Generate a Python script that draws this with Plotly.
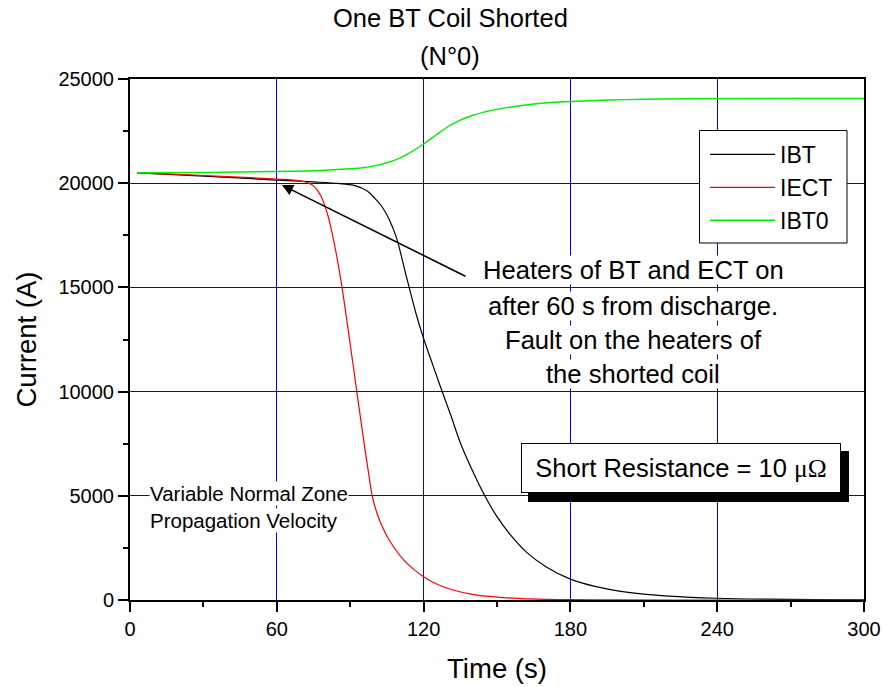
import plotly.graph_objects as go

# ---------------- data ----------------
t_ibt = [3, 20, 40, 60, 75, 85, 92, 97, 100, 103, 106, 109, 113, 117, 120, 124, 127, 131, 135,
         140, 145, 150, 155, 162, 170, 180, 190, 200, 210, 220, 240, 260, 280, 300]
i_ibt = [20500, 20400, 20280, 20150, 20060, 19990, 19880, 19620, 19280, 18870, 18250, 17350,
         15500, 13700, 12550, 11200, 10200, 8900, 7550, 6200, 5000, 4000, 3200, 2300, 1600,
         1000, 650, 430, 285, 190, 85, 38, 17, 8]

t_iect = [3, 20, 40, 60, 68, 72, 75, 78, 81, 83.5, 86.2, 89.5, 92.7, 95.7, 97.5, 99, 101, 103.5,
          106, 109, 112, 116, 120, 126, 132, 140, 150, 160, 170, 180, 200, 240, 300]
i_iect = [20500, 20420, 20320, 20200, 20140, 20050, 19870, 19400, 18400, 17100, 15350, 12700,
          10000, 7500, 6100, 5000, 4150, 3420, 2870, 2340, 1900, 1470, 1120, 730, 480, 270,
          135, 65, 32, 15, 4, 0, 0]

t_ibt0 = [3, 30, 60, 80, 90, 95, 100, 105, 110, 115, 120, 125, 130, 135, 140, 145, 150, 157,
          165, 172, 180, 195, 210, 225, 240, 270, 300]
i_ibt0 = [20500, 20520, 20560, 20620, 20690, 20740, 20830, 20980, 21190, 21500, 21880, 22300,
          22720, 23030, 23250, 23420, 23540, 23680, 23800, 23870, 23920, 23990, 24030, 24050,
          24060, 24070, 24070]

x_ticks = [0, 60, 120, 180, 240, 300]
y_ticks = [0, 5000, 10000, 15000, 20000, 25000]

# ---------------- figure ----------------
FONT = "Liberation Sans, Arial, sans-serif"
fig = go.Figure()
fig.add_trace(go.Scatter(x=t_ibt, y=i_ibt, name="IBT", mode="lines",
                         line=dict(color="#000000", width=1.2, shape="spline", smoothing=0.8)))
fig.add_trace(go.Scatter(x=t_iect, y=i_iect, name="IECT", mode="lines",
                         line=dict(color="#FF0000", width=1.2, shape="spline", smoothing=0.8)))
fig.add_trace(go.Scatter(x=t_ibt0, y=i_ibt0, name="IBT0", mode="lines",
                         line=dict(color="#00F000", width=1.4, shape="spline", smoothing=0.8)))

axis_common = dict(
    showline=True, linecolor="black", linewidth=2, mirror=True,
    showgrid=True, gridcolor="#0000FF", gridwidth=1,
    zeroline=False, ticks="outside", ticklen=10, tickwidth=1.5, tickcolor="black",
    tickfont=dict(family=FONT, size=20, color="black"), automargin=False,
)
fig.update_xaxes(range=[0, 300], tickvals=x_ticks, ticktext=[str(v) for v in x_ticks],
                 minor=dict(dtick=30, tick0=0, ticks="outside", ticklen=5, tickwidth=1.5,
                            tickcolor="black", showgrid=False),
                 title=dict(text="Time (s)", font=dict(family=FONT, size=27.5, color="black"),
                            standoff=20),
                 **axis_common)
fig.update_yaxes(range=[0, 25000], tickvals=y_ticks, ticktext=[str(v) for v in y_ticks],
                 minor=dict(dtick=2500, tick0=0, ticks="outside", ticklen=5, tickwidth=1.5,
                            tickcolor="black", showgrid=False),
                 title=dict(text="Current (A)", font=dict(family=FONT, size=27.5, color="black"),
                            standoff=14),
                 **axis_common)

def px_x(p):
    return (p - 130) / 734.0

def px_y(p):
    return (600 - p) / 521.0

annotations = []
# titles
for txt, py in [("One BT Coil Shorted", 18), ("(N°0)", 56)]:
    annotations.append(dict(text=txt, x=px_x(450), y=px_y(py), xref="paper", yref="paper",
                            xanchor="center", yanchor="middle", showarrow=False,
                            font=dict(family=FONT, size=25.5, color="black")))
# heater note (one line per annotation, white background per line)
for txt, py in [("Heaters of BT and ECT on", 270), ("after 60 s from discharge.", 306),
                ("Fault on the heaters of", 340), ("the shorted coil", 374)]:
    annotations.append(dict(text=txt, x=px_x(633), y=px_y(py), xref="paper", yref="paper",
                            xanchor="center", yanchor="middle", showarrow=False,
                            bgcolor="white", borderpad=0,
                            font=dict(family=FONT, size=25.6, color="black")))
# arrow
annotations.append(dict(text="", x=62.1, y=19910, ax=137.7, ay=15500, xref="x", yref="y",
                        axref="x", ayref="y", showarrow=True, arrowhead=2, arrowsize=1.4,
                        arrowwidth=1.6, arrowcolor="black", standoff=0))
# variable normal zone note
for txt, py in [("Variable Normal Zone", 493), ("Propagation Velocity", 520)]:
    annotations.append(dict(text=txt, x=px_x(149), y=px_y(py), xref="paper", yref="paper",
                            xanchor="left", yanchor="middle", showarrow=False,
                            bgcolor="white", borderpad=0,
                            font=dict(family=FONT, size=20.5, color="black")))
# short resistance box
annotations.append(dict(
    text="Short Resistance = 10 <span style='font-family:Liberation Serif, Times New Roman, serif'>μΩ</span>",
    x=px_x(680.5), y=px_y(468), xref="paper", yref="paper", xanchor="center", yanchor="middle",
    showarrow=False, bgcolor="white", bordercolor="black", borderwidth=1, borderpad=0,
    width=318, height=48, font=dict(family=FONT, size=25.5, color="black")))

shapes = [
    # drop shadow of the resistance box
    dict(type="rect", xref="paper", yref="paper", x0=px_x(528), x1=px_x(849),
         y0=px_y(502), y1=px_y(451), fillcolor="black", line=dict(width=0), layer="above"),
    # legend frame
    dict(type="rect", xref="paper", yref="paper", x0=px_x(699.5), x1=px_x(847),
         y0=px_y(243), y1=px_y(130.5), fillcolor="white", line=dict(color="black", width=1),
         layer="above"),
]

fig.update_layout(
    width=885, height=687,
    margin=dict(l=130, r=21, t=79, b=87, autoexpand=False),
    paper_bgcolor="white", plot_bgcolor="white",
    font=dict(family=FONT, color="black"),
    showlegend=True,
    legend=dict(x=px_x(705), y=px_y(133), xanchor="left", yanchor="top",
                bgcolor="rgba(0,0,0,0)", borderwidth=0,
                font=dict(family=FONT, size=23, color="black"),
                itemwidth=65, tracegroupgap=0),
    annotations=annotations,
    shapes=shapes,
)

fig.write_html("out.html")
